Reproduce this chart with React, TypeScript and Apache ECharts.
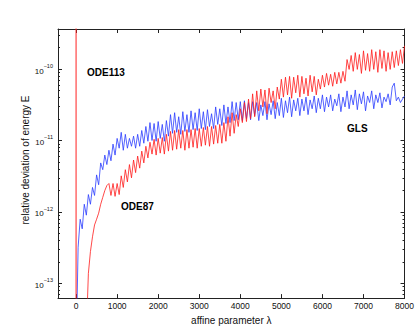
import React, { useEffect, useRef } from 'react';
import * as echarts from 'echarts';

// ---- data (relative deviation of energy vs affine parameter) ----
const LAMBDA_STEP = 50;

const GLS_START = 0;
const glsEnergy = [
  1e-14, 3.2e-13, 7.9e-13, 5.8e-13, 1.28e-12, 9.0e-13, 1.75e-12, 1.28e-12, 2.2e-12, 1.7e-12,
  3.3e-12, 2.4e-12, 4.85e-12, 3.9e-12, 6.25e-12, 4.6e-12, 7.3e-12, 5.2e-12, 8.9e-12, 6.25e-12,
  1.07e-11, 7.8e-12, 1.3e-11, 7.3e-12, 1.22e-11, 7.8e-12, 1.07e-11, 8.3e-12, 1.15e-11, 7.8e-12,
  1.22e-11, 8.3e-12, 1.38e-11, 9.15e-12, 1.57e-11, 9.75e-12, 1.78e-11, 1.0e-11, 1.73e-11, 9.75e-12,
  1.84e-11, 1.07e-11, 1.68e-11, 9.75e-12, 1.9e-11, 1.15e-11, 2.3e-11, 1.26e-11, 2.45e-11, 1.3e-11,
  2.15e-11, 1.22e-11, 2.53e-11, 1.34e-11, 2.3e-11, 1.3e-11, 2.6e-11, 1.42e-11, 2.45e-11, 1.38e-11,
  2.78e-11, 1.47e-11, 2.53e-11, 1.42e-11, 2.7e-11, 1.57e-11, 2.37e-11, 1.47e-11, 2.95e-11, 1.68e-11,
  2.78e-11, 1.62e-11, 3.15e-11, 1.73e-11, 2.95e-11, 1.78e-11, 3.5e-11, 1.9e-11, 3.4e-11, 1.95e-11,
  3.5e-11, 1.9e-11, 3.6e-11, 2.02e-11, 3.4e-11, 1.95e-11, 3.5e-11, 2.23e-11, 3.4e-11, 1.9e-11,
  3.15e-11, 2.23e-11, 3.5e-11, 1.95e-11, 3.26e-11, 2.3e-11, 3.6e-11, 2.02e-11, 3.4e-11, 2.23e-11,
  3.9e-11, 2.1e-11, 3.6e-11, 2.45e-11, 4.05e-11, 2.15e-11, 3.7e-11, 2.6e-11, 3.9e-11, 2.23e-11,
  3.8e-11, 2.6e-11, 4.05e-11, 2.3e-11, 3.7e-11, 2.78e-11, 4.2e-11, 2.45e-11, 3.9e-11, 2.78e-11,
  4.35e-11, 2.53e-11, 4.05e-11, 2.95e-11, 4.35e-11, 2.6e-11, 3.8e-11, 3.06e-11, 4.5e-11, 2.53e-11,
  4.05e-11, 2.95e-11, 4.95e-11, 2.78e-11, 4.35e-11, 3.15e-11, 5.1e-11, 2.7e-11, 4.5e-11, 3.26e-11,
  4.8e-11, 2.6e-11, 4.2e-11, 3.4e-11, 4.95e-11, 2.78e-11, 4.35e-11, 3.4e-11, 4.65e-11, 2.86e-11,
  4.05e-11, 3.5e-11, 4.5e-11, 3.15e-11, 5.6e-11, 6.35e-11, 3.6e-11, 4.05e-11, 3.4e-11, 3.8e-11,
  4.2e-11,
];

const ODE87_START = 250;
const ode87Energy = [
  2e-14, 1.38e-13, 2.78e-13, 4.48e-13, 6.56e-13, 7.9e-13, 9.6e-13, 1.28e-12, 1.6e-12, 1.99e-12,
  2.34e-12, 2.5e-12, 1.7e-12, 2.5e-12, 1.65e-12, 2.5e-12, 1.75e-12, 3.2e-12, 2.2e-12, 3.9e-12,
  2.63e-12, 4.6e-12, 3.0e-12, 5.33e-12, 3.55e-12, 6.05e-12, 4.1e-12, 7.1e-12, 4.85e-12, 8.3e-12,
  5.7e-12, 9.45e-12, 6.45e-12, 1.04e-11, 6.25e-12, 1.07e-11, 6.65e-12, 1.1e-11, 6.45e-12, 1.22e-11,
  7.1e-12, 1.34e-11, 7.3e-12, 1.38e-11, 7.55e-12, 1.42e-11, 7.8e-12, 1.38e-11, 7.3e-12, 1.42e-11,
  7.8e-12, 1.42e-11, 8.05e-12, 1.47e-11, 7.8e-12, 1.47e-11, 8.3e-12, 1.52e-11, 8.6e-12, 1.57e-11,
  8.3e-12, 1.57e-11, 8.9e-12, 1.62e-11, 9.15e-12, 1.68e-11, 9.15e-12, 1.78e-11, 9.75e-12, 2.15e-11,
  1.15e-11, 2.45e-11, 1.26e-11, 2.3e-11, 1.57e-11, 2.78e-11, 1.78e-11, 3.4e-11, 1.84e-11, 3.8e-11,
  2.02e-11, 4.5e-11, 2.15e-11, 4.95e-11, 2.6e-11, 5.25e-11, 2.95e-11, 5.1e-11, 2.37e-11, 5.4e-11,
  3.4e-11, 4.95e-11, 2.78e-11, 5.6e-11, 3.8e-11, 7.2e-11, 4.05e-11, 7.7e-11, 4.35e-11, 7.9e-11,
  3.9e-11, 7.7e-11, 4.65e-11, 8.2e-11, 4.05e-11, 7.9e-11, 4.5e-11, 7.45e-11, 4.2e-11, 8.2e-11,
  4.8e-11, 7.9e-11, 4.35e-11, 7.2e-11, 5.25e-11, 8.2e-11, 5.6e-11, 8.7e-11, 5.95e-11, 8.45e-11,
  5.75e-11, 9.0e-11, 6.2e-11, 9.0e-11, 6.35e-11, 9.3e-11, 6.75e-11, 1.36e-10, 9.9e-11, 1.55e-10,
  9.3e-11, 1.7e-10, 9.9e-11, 1.6e-10, 8.7e-11, 1.8e-10, 9.6e-11, 1.65e-10, 9.3e-11, 1.87e-10,
  9.9e-11, 1.75e-10, 9.0e-11, 1.87e-10, 1.02e-10, 1.8e-10, 9.3e-11, 1.7e-10, 9.9e-11, 1.75e-10,
  1.05e-10, 1.8e-10, 1.12e-10, 1.87e-10, 1.2e-10, 2.12e-10,
];

const ode113Lambda = [0, 0];
const ode113Energy = [1e-15, 1e-8];

const xTickValues = [0, 1000, 2000, 3000, 4000, 5000, 6000, 7000, 8000];
const yDecades = [-13, -12, -11, -10];

const X_MIN = -440;
const X_MAX = 8000;
const E_MIN = 6.21e-14;
const E_MAX = 3.64e-10;

const FONT = '"Liberation Sans", Arial, Helvetica, sans-serif';
const AXIS_COLOR = '#222';

export default function App() {
  const ref = useRef<HTMLDivElement>(null);

  useEffect(() => {
    if (!ref.current) return;
    const chart = echarts.init(ref.current, undefined, { renderer: 'svg' });

    const yMin = Math.log10(E_MIN);
    const yMax = Math.log10(E_MAX);
    const minorTicks: number[] = [];
    for (let n = -14; n <= -10; n++) {
      for (let k = 2; k <= 9; k++) {
        const v = n + Math.log10(k);
        if (v > yMin && v < yMax) minorTicks.push(v);
      }
    }

    const toPoints = (start: number, arr: number[]) =>
      arr.map((e, i) => [start + i * LAMBDA_STEP, Math.log10(e)]);

    const baseX = {
      type: 'value',
      min: X_MIN,
      max: X_MAX,
      splitLine: { show: false },
      axisLine: { show: true, onZero: false, lineStyle: { color: AXIS_COLOR, width: 1 } },
      axisTick: { show: true, inside: true, length: 4, customValues: xTickValues, lineStyle: { color: AXIS_COLOR } },
    };
    const baseY = {
      type: 'value',
      min: yMin,
      max: yMax,
      splitLine: { show: false },
      axisLine: { show: true, onZero: false, lineStyle: { color: AXIS_COLOR, width: 1 } },
    };

    chart.setOption({
      animation: false,
      backgroundColor: '#ffffff',
      grid: { left: 58, right: 12, top: 29, bottom: 28 },
      xAxis: [
        {
          ...baseX,
          position: 'bottom',
          name: 'affine parameter λ',
          nameLocation: 'middle',
          nameGap: 14,
          nameTextStyle: { fontFamily: FONT, fontSize: 10, color: '#111' },
          axisLabel: {
            customValues: xTickValues,
            formatter: (v: number) => String(v),
            fontFamily: FONT,
            fontSize: 8.5,
            color: '#111',
            margin: 3,
          },
        },
        {
          ...baseX,
          position: 'top',
          axisLabel: { show: false },
        },
      ],
      yAxis: [
        {
          ...baseY,
          position: 'left',
          axisTick: { show: true, inside: true, length: 4, customValues: yDecades, lineStyle: { color: AXIS_COLOR } },
          axisLabel: {
            customValues: yDecades,
            margin: 5,
            formatter: (v: number) => '{b|10}{e|−' + String(Math.round(-v)) + '}',
            rich: {
              b: { fontFamily: FONT, fontSize: 8, color: '#111', lineHeight: 12, verticalAlign: 'bottom' },
              e: { fontFamily: FONT, fontSize: 5.5, color: '#111', lineHeight: 6, verticalAlign: 'top' },
            },
          },
        },
        {
          ...baseY,
          position: 'left',
          axisLine: { show: false, onZero: false },
          axisTick: { show: true, inside: true, length: 2, customValues: minorTicks, lineStyle: { color: AXIS_COLOR } },
          axisLabel: { show: false },
        },
        {
          ...baseY,
          position: 'right',
          axisTick: { show: true, inside: true, length: 4, customValues: yDecades, lineStyle: { color: AXIS_COLOR } },
          axisLabel: { show: false },
        },
        {
          ...baseY,
          position: 'right',
          axisLine: { show: false, onZero: false },
          axisTick: { show: true, inside: true, length: 2, customValues: minorTicks, lineStyle: { color: AXIS_COLOR } },
          axisLabel: { show: false },
        },
      ],
      graphic: [
        {
          type: 'text',
          x: 25,
          y: 160,
          rotation: Math.PI / 2,
          style: {
            text: 'relative deviation of energy E',
            fontFamily: FONT,
            fontSize: 10,
            fill: '#111',
            align: 'center',
            verticalAlign: 'middle',
          },
        },
        {
          type: 'text',
          x: 87,
          y: 72.5,
          z: 10,
          style: { text: 'ODE113', fontFamily: FONT, fontSize: 10, fontWeight: 'bold', fill: '#000', align: 'left', verticalAlign: 'middle' },
        },
        {
          type: 'text',
          x: 121,
          y: 206,
          z: 10,
          style: { text: 'ODE87', fontFamily: FONT, fontSize: 10, fontWeight: 'bold', fill: '#000', align: 'left', verticalAlign: 'middle' },
        },
        {
          type: 'text',
          x: 347,
          y: 128,
          z: 10,
          style: { text: 'GLS', fontFamily: FONT, fontSize: 10, fontWeight: 'bold', fill: '#000', align: 'left', verticalAlign: 'middle' },
        },
      ],
      series: [
        {
          name: 'GLS',
          type: 'line',
          xAxisIndex: 0,
          yAxisIndex: 0,
          data: toPoints(GLS_START, glsEnergy),
          symbol: 'none',
          clip: true,
          silent: true,
          lineStyle: { color: '#2a3cff', width: 0.8 },
        },
        {
          name: 'ODE87',
          type: 'line',
          xAxisIndex: 0,
          yAxisIndex: 0,
          data: toPoints(ODE87_START, ode87Energy),
          symbol: 'none',
          clip: true,
          silent: true,
          lineStyle: { color: '#ff1a1a', width: 0.8 },
        },
        {
          name: 'ODE113',
          type: 'line',
          xAxisIndex: 0,
          yAxisIndex: 0,
          data: ode113Lambda.map((l, i) => [l, Math.log10(ode113Energy[i])]),
          symbol: 'none',
          clip: true,
          silent: true,
          lineStyle: { color: '#ff2020', width: 1 },
        },
      ],
    });

    return () => chart.dispose();
  }, []);

  return (
    <div
      ref={ref}
      style={{ position: 'fixed', left: 0, top: 0, width: 417, height: 330, background: '#fff' }}
    />
  );
}
